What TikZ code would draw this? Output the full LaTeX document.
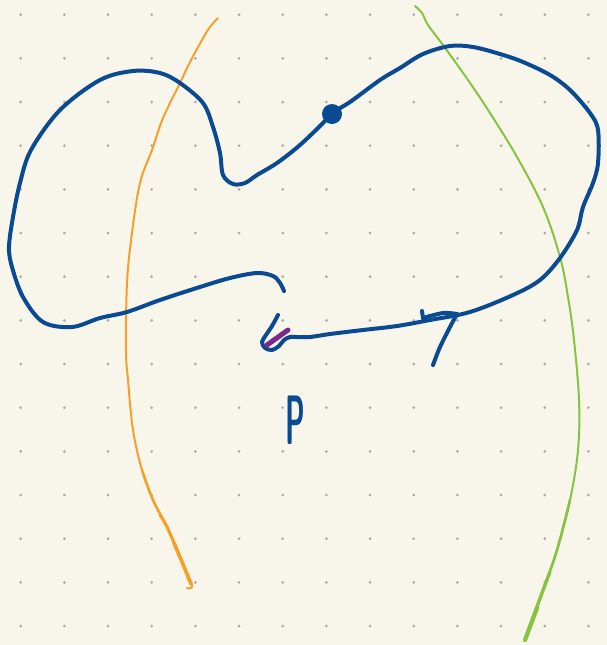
\documentclass[tikz,border=0pt]{standalone}
\usepackage{tikz}
\definecolor{paper}{HTML}{F8F6EA}
\definecolor{griddot}{HTML}{ABABA5}
\definecolor{ink}{HTML}{0A4A92}
\definecolor{marker}{HTML}{F6A02B}
\definecolor{lime}{HTML}{86C440}
\definecolor{plum}{HTML}{7A2A8E}

\begin{document}
\begin{tikzpicture}[x=1pt, y=-1pt,
  pen/.style={draw=ink, line width=4pt, line cap=round, line join=round},
  orangeline/.style={draw=marker, line width=2pt, line cap=round},
  greenline/.style={draw=lime, line width=2pt, line cap=round},
  label/.style={text=ink, font=\sffamily\bfseries\fontsize{70}{70}\selectfont, inner sep=0pt}]
\fill[paper] (0,0) rectangle (607,645);
\useasboundingbox (0,0) rectangle (607,645);
\foreach \i in {0,...,13}
  \foreach \j in {0,...,14}
    \fill[griddot] (20.7+43.67*\i,14.7+43.67*\j) circle (1.5);
\draw[orangeline] plot[smooth, tension=0.6] coordinates {(218,18) (210,27) (202,40) (190,62) (180,83) (163,118) (152,150) (140,183) (132,233) (127,283) (126,350) (128,380) (133,430) (142,470) (153,500) (167,527) (180,557) (192,585) (187,588)};
\draw[orangeline, line width=2.5pt] plot[smooth, tension=0.6] coordinates {(142,470) (153,500) (167,527) (180,557) (191,584)};
\draw[orangeline, line width=3pt] plot[smooth, tension=0.6] coordinates {(160,515) (167,527) (180,557) (191,584)};
\draw[orangeline, line width=3.5pt] plot[smooth, tension=0.6] coordinates {(174,543) (180,557) (191,584)};
\draw[greenline] plot[smooth, tension=0.6] coordinates {(415,6) (422,13) (428,25) (443,45) (468,80) (490,113) (517,157) (543,207) (560,257) (568,297) (574,340) (579,400) (578,450) (570,500) (557,550) (542,593) (525,640)};
\draw[greenline, line width=2.6pt] plot[smooth, tension=0.6] coordinates {(570,500) (557,550) (542,593) (525,640)};
\draw[greenline, line width=3.3pt] plot[smooth, tension=0.6] coordinates {(550,572) (542,593) (525,640)};
\draw[greenline, line width=4.2pt] plot[smooth, tension=0.6] coordinates {(537,608) (525,640)};
\draw[pen] plot[smooth, tension=0.55] coordinates {(278,315) (272,326) (266,335) (262,342) (265,348) (272,350) (279,346) (284,340) (290,337) (297,337) (310,337) (330,334) (363,330) (397,326) (430,320) (470,312) (513,295) (540,280) (560,258) (577,230) (583,207) (593,183) (598,163) (598,130) (590,113) (570,90) (550,75) (523,62) (500,54) (473,47) (450,46) (423,54) (400,68) (380,80) (350,102) (332,113) (323,123) (300,145) (277,163) (257,175) (245,183) (233,184) (223,175) (220,153) (213,127) (203,103) (180,83) (160,73) (133,71) (100,80) (60,110) (31,150) (20,183) (13,217) (9,247) (12,267) (23,297) (43,322) (72,327) (100,318) (127,312) (160,300) (200,287) (230,278) (257,273) (273,276) (280,283) (284,291)};
\draw[pen] (422,311) -- (423,318);
\draw[pen] plot[smooth, tension=0.5] coordinates {(423,318) (443,313) (457,314)};
\draw[pen] plot[smooth, tension=0.5] coordinates {(457,314) (450,327) (440,347) (433,365)};
\fill[ink] (332,114) circle (10);
\draw[plum, line width=5pt, line cap=round] (267,345) -- (288,330);
\node[label] (p) at (295,420) {\scalebox{0.4}[1]{P}};
\end{tikzpicture}
\end{document}
